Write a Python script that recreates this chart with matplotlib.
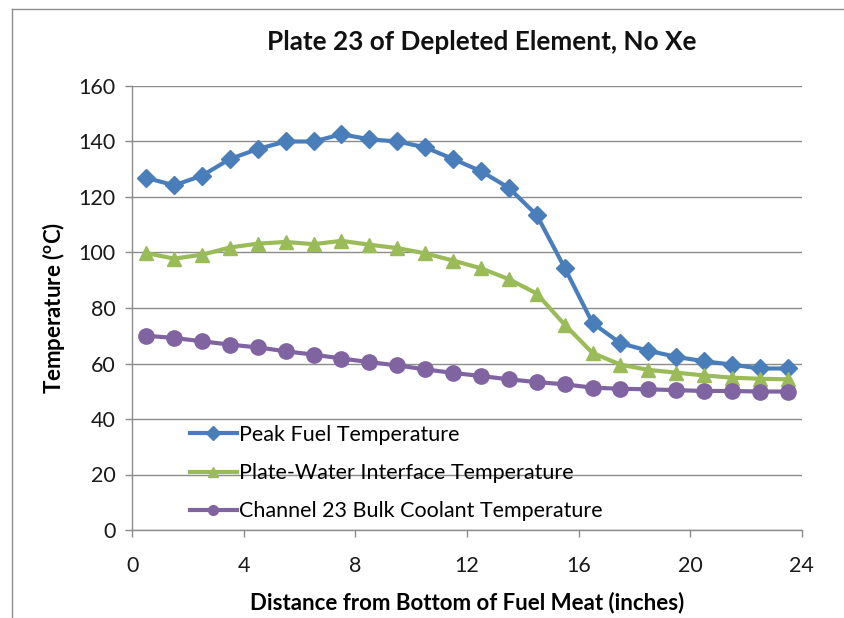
import matplotlib
matplotlib.use("Agg")
import matplotlib.pyplot as plt
from matplotlib.lines import Line2D

# ---- data ----
distance = [0.5, 1.5, 2.5, 3.5, 4.5, 5.5, 6.5, 7.5, 8.5, 9.5, 10.5, 11.5,
            12.5, 13.5, 14.5, 15.5, 16.5, 17.5, 18.5, 19.5, 20.5, 21.5, 22.5, 23.5]
peak_fuel = [126.9, 124.2, 127.7, 133.7, 137.3, 140.0, 140.0, 142.6, 140.8, 140.0, 137.9, 133.7,
             129.3, 123.3, 113.5, 94.5, 74.6, 67.3, 64.6, 62.4, 60.8, 59.6, 58.2, 58.2]
interface = [99.8, 97.8, 99.2, 101.8, 103.2, 103.8, 103.0, 104.2, 102.8, 101.6, 99.7, 97.1,
             94.3, 90.4, 85.2, 74.0, 63.8, 59.6, 57.7, 56.7, 55.7, 54.9, 54.5, 54.3]
bulk_coolant = [70.0, 69.2, 68.0, 66.8, 65.8, 64.4, 63.2, 61.8, 60.5, 59.3, 57.9, 56.6,
                55.5, 54.3, 53.3, 52.5, 51.3, 50.9, 50.7, 50.4, 50.1, 50.1, 49.9, 49.9]
series_labels = ["Peak Fuel Temperature",
                 "Plate-Water Interface Temperature",
                 "Channel 23 Bulk Coolant Temperature"]
x_ticks = [0, 4, 8, 12, 16, 20, 24]
y_ticks = [0, 20, 40, 60, 80, 100, 120, 140, 160]
title = "Plate 23 of Depleted Element, No Xe"
x_label = "Distance from Bottom of Fuel Meat (inches)"
y_label = "Temperature ($^{\\mathregular{o}}$C)"

plt.rcParams['font.family'] = ['Lato', 'DejaVu Sans']

fig = plt.figure(figsize=(8.45, 6.18), dpi=100)
ax = fig.add_axes([132.3/845, 1-530/618, (801.7-132.3)/845, (530-86)/618])

colors = ["#4A7EBB", "#9BBB59", "#8064A2"]
markers = ["D", "^", "o"]
msizes = [9, 10.5, 11]
for vals, lab, c, m, ms in zip([peak_fuel, interface, bulk_coolant], series_labels, colors, markers, msizes):
    ax.plot(distance, vals, color=c, lw=3, marker=m, ms=ms, mec=c, mfc=c, label=lab, zorder=3)

ax.set_xlim(0, 24)
ax.set_ylim(0, 160)
ax.set_xticks(x_ticks)
ax.set_yticks(y_ticks)
ax.yaxis.grid(True, color="#8C8C8C", lw=1)
ax.set_axisbelow(True)
for s in ["top", "right"]:
    ax.spines[s].set_visible(False)
for s in ["left", "bottom"]:
    ax.spines[s].set_color("#8C8C8C")
    ax.spines[s].set_linewidth(1)
ax.tick_params(axis="both", direction="out", length=5, color="#8C8C8C",
               labelsize=15.5, labelcolor="#1a1a1a", width=1)
ax.tick_params(axis="x", pad=14)
ax.tick_params(axis="y", pad=7)

ax.set_xlabel(x_label, fontsize=16, fontweight="bold", labelpad=11)
ax.set_ylabel(y_label, fontsize=16, fontweight="bold", labelpad=8)
fig.text(482/845, 1-42/618, title, fontsize=18.8, fontweight="bold",
         ha="center", va="center", color="#111111")

leg = ax.legend(loc="lower left", bbox_to_anchor=(0.073, 0.0), frameon=False,
                fontsize=15.5, handlelength=2.2, handletextpad=0.1,
                labelspacing=0.85, borderaxespad=0)
for h in leg.legend_handles:
    h.set_markersize(7)
    h.set_linewidth(3)

# chart border (top and left edges)
fig.add_artist(Line2D([12/845, 12/845], [0, 1-9/618], transform=fig.transFigure,
                      color="#8C8C8C", lw=1))
fig.add_artist(Line2D([12/845, 1], [1-9/618, 1-9/618], transform=fig.transFigure,
                      color="#8C8C8C", lw=1))

fig.savefig("out.png", dpi=100)
